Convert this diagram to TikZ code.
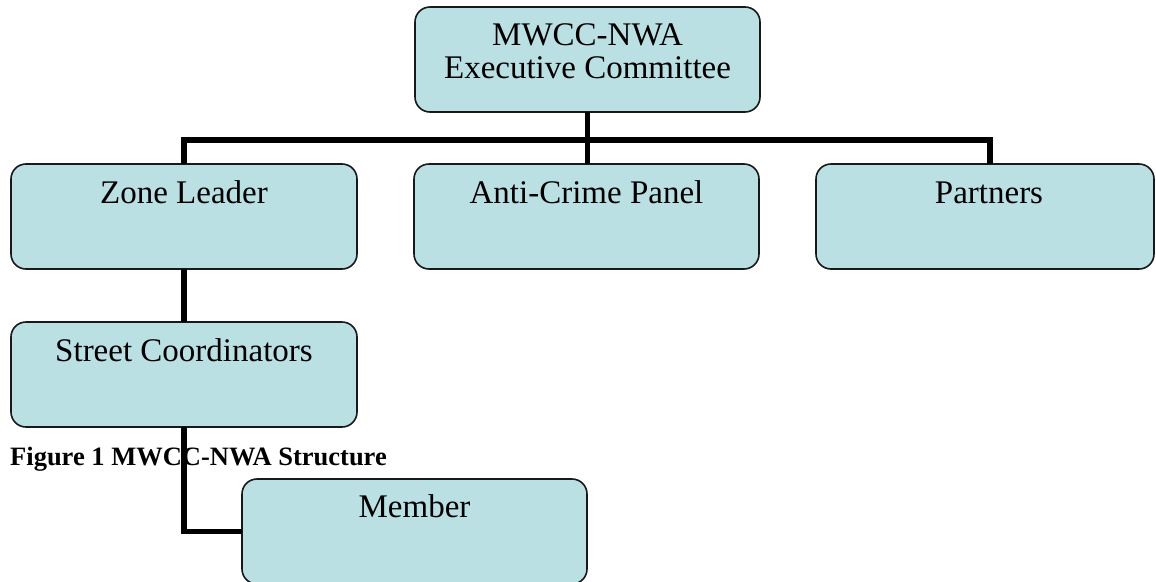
\documentclass[tikz,border=0pt]{standalone}
\usepackage{fontspec}
\setmainfont{Liberation Serif}
\definecolor{boxfill}{RGB}{187,224,227}
\begin{document}
\begin{tikzpicture}[x=1pt,y=-1pt,
  box/.style={draw=black!90, line width=1.6pt, fill=boxfill, rounded corners=15pt,
    inner sep=0pt, outer sep=0pt, anchor=north west, minimum height=105pt},
  boxtext/.style={anchor=base, inner sep=0pt, font=\fontsize{33}{38}\selectfont},
  conn/.style={draw=black, line width=5.5pt, line join=miter, line cap=butt}]
\path[use as bounding box, clip] (0,0) rectangle (1156,581);
% boxes
\node[box, minimum width=345pt] (top) at (415,7) {};
\node[box, minimum width=346pt] (zl)  at (11,164) {};
\node[box, minimum width=345pt] (acp) at (414,164) {};
\node[box, minimum width=338pt] (par) at (816,164) {};
\node[box, minimum width=346pt] (sc)  at (11,322) {};
\node[box, minimum width=345pt] (mem) at (242,479) {};
% texts
\node[boxtext] (topa) at (587.5,45) {MWCC-NWA};
\node[boxtext] (topb) at (587.5,78) {Executive Committee};
\node[boxtext] (zlt)  at (184,203) {Zone Leader};
\node[boxtext] (acpt) at (586.5,203) {Anti-Crime Panel};
\node[boxtext] (part) at (989,203) {Partners};
\node[boxtext] (sct)  at (184,361) {Street Coordinators};
\node[boxtext] (memt) at (414.5,517) {Member};
% caption
\node[anchor=base west, inner sep=0pt, font=\bfseries\fontsize{26.5}{30}\selectfont] (cap) at (10,465) {Figure 1 MWCC-NWA Structure};
% connectors
\coordinate (parj) at ([xshift=5pt]par.north);
\draw[conn] (top.south) -- (top.south |- acp.north);
\draw[conn] (zl.north) |- ([yshift=24pt]parj) -- (parj);
\draw[conn] (zl.south) -- (sc.north);
\draw[conn] (sc.south) |- (mem.west);
\end{tikzpicture}
\end{document}
